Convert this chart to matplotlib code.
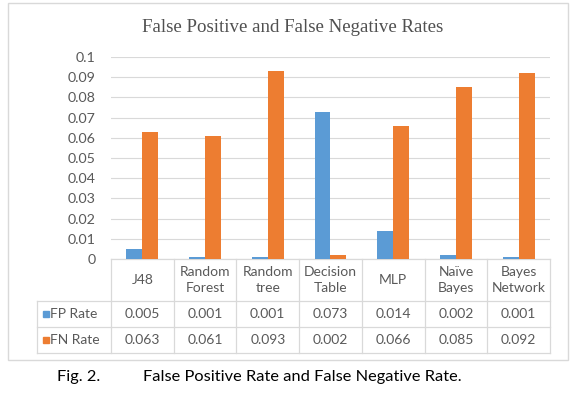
import numpy as np
import matplotlib
matplotlib.use('Agg')
import matplotlib.pyplot as plt
from matplotlib.patches import Rectangle
from matplotlib.lines import Line2D

# data
categories = ["J48", "Random\nForest", "Random\ntree", "Decision\nTable", "MLP", "Naïve\nBayes", "Bayes\nNetwork"]
fp_rate = [0.005, 0.001, 0.001, 0.073, 0.014, 0.002, 0.001]
fn_rate = [0.063, 0.061, 0.093, 0.002, 0.066, 0.085, 0.092]
fp_labels = ["0.005", "0.001", "0.001", "0.073", "0.014", "0.002", "0.001"]
fn_labels = ["0.063", "0.061", "0.093", "0.002", "0.066", "0.085", "0.092"]
yticks = [0, 0.01, 0.02, 0.03, 0.04, 0.05, 0.06, 0.07, 0.08, 0.09, 0.1]
ytick_labels = ["0", "0.01", "0.02", "0.03", "0.04", "0.05", "0.06", "0.07", "0.08", "0.09", "0.1"]

blue = "#5B9BD5"
orange = "#ED7D31"
grey_txt = "#595959"
grid_c = "#d9d9d9"

W, H = 579, 394
fig = plt.figure(figsize=(W / 100, H / 100), dpi=100)
fig.patch.set_facecolor("white")
plt.rcParams['font.family'] = ['Lato', 'DejaVu Sans']

# plot area in pixels
x0, x1 = 111, 550
y_top, y_base = 57, 259
ax = fig.add_axes([x0 / W, 1 - y_base / H, (x1 - x0) / W, (y_base - y_top) / H])

x = np.arange(len(categories))
bw = 0.255
ax.bar(x - bw / 2, fp_rate, bw, color=blue, zorder=3)
ax.bar(x + bw / 2, fn_rate, bw, color=orange, zorder=3)

ax.set_xlim(-0.5, len(categories) - 0.5)
ax.set_ylim(0, 0.1)
ax.set_yticks(yticks)
ax.set_yticklabels(ytick_labels)
ax.set_xticks([])
ax.tick_params(axis='y', length=0, pad=11, labelsize=10.3, labelcolor=grey_txt)
ax.grid(axis='y', color=grid_c, lw=0.8, zorder=0)
for s in ax.spines.values():
    s.set_visible(False)

# data table under the plot
tr = ax.get_xaxis_transform()
ph = y_base - y_top
def fy(py):
    return -(py - y_base) / ph

row_cat = (259, 301)
row_fp = (301, 327)
row_fn = (327, 353)
lab_left = -0.5 - (x0 - 37) / ((x1 - x0) / len(categories))
right = len(categories) - 0.5

def hline(xa, xb, py):
    ax.add_line(Line2D([xa, xb], [fy(py), fy(py)], transform=tr, color=grid_c, lw=0.9, clip_on=False))

def vline(xv, pa, pb):
    ax.add_line(Line2D([xv, xv], [fy(pa), fy(pb)], transform=tr, color=grid_c, lw=0.9, clip_on=False))

hline(-0.5, right, row_cat[0])
hline(lab_left, right, row_fp[0])
hline(lab_left, right, row_fn[0])
hline(lab_left, right, row_fn[1])
vline(lab_left, row_fp[0], row_fn[1])
for i in range(len(categories) + 1):
    vline(i - 0.5, row_cat[0], row_fn[1])

for i, c in enumerate(categories):
    ax.text(i, fy(sum(row_cat) / 2), c, transform=tr, ha='center', va='center',
            fontsize=10, color=grey_txt, linespacing=1.3)
    ax.text(i, fy(sum(row_fp) / 2), fp_labels[i], transform=tr, ha='center', va='center',
            fontsize=10, color=grey_txt)
    ax.text(i, fy(sum(row_fn) / 2), fn_labels[i], transform=tr, ha='center', va='center',
            fontsize=10, color=grey_txt)

# legend keys in the row headers
for row, name, col in [(row_fp, "FP Rate", blue), (row_fn, "FN Rate", orange)]:
    cy = sum(row) / 2
    fig.add_artist(Rectangle((43 / W, 1 - (cy + 2.5) / H), 5.5 / W, 5.5 / H, color=col,
                             transform=fig.transFigure))
    fig.text(50 / W, 1 - cy / H, name, ha='left', va='center', fontsize=10, color=grey_txt)

# chart border and title
fig.add_artist(Rectangle((8 / W, 1 - 360 / H), 560 / W, 357 / H, fill=False,
                         edgecolor=grid_c, lw=1, transform=fig.transFigure))
fig.text(293 / W, 1 - 27 / H, "False Positive and False Negative Rates", ha='center', va='center',
         fontsize=13.6, color="#505050", family='Liberation Serif')

# caption
fig.text(57 / W, 1 - 377 / H, "Fig. 2.", ha='left', va='center', fontsize=11.8, color='black')
fig.text(143 / W, 1 - 377 / H, "False Positive Rate and False Negative Rate.", ha='left',
         va='center', fontsize=11.8, color='black')

fig.savefig("out.png", dpi=100, facecolor="white")
